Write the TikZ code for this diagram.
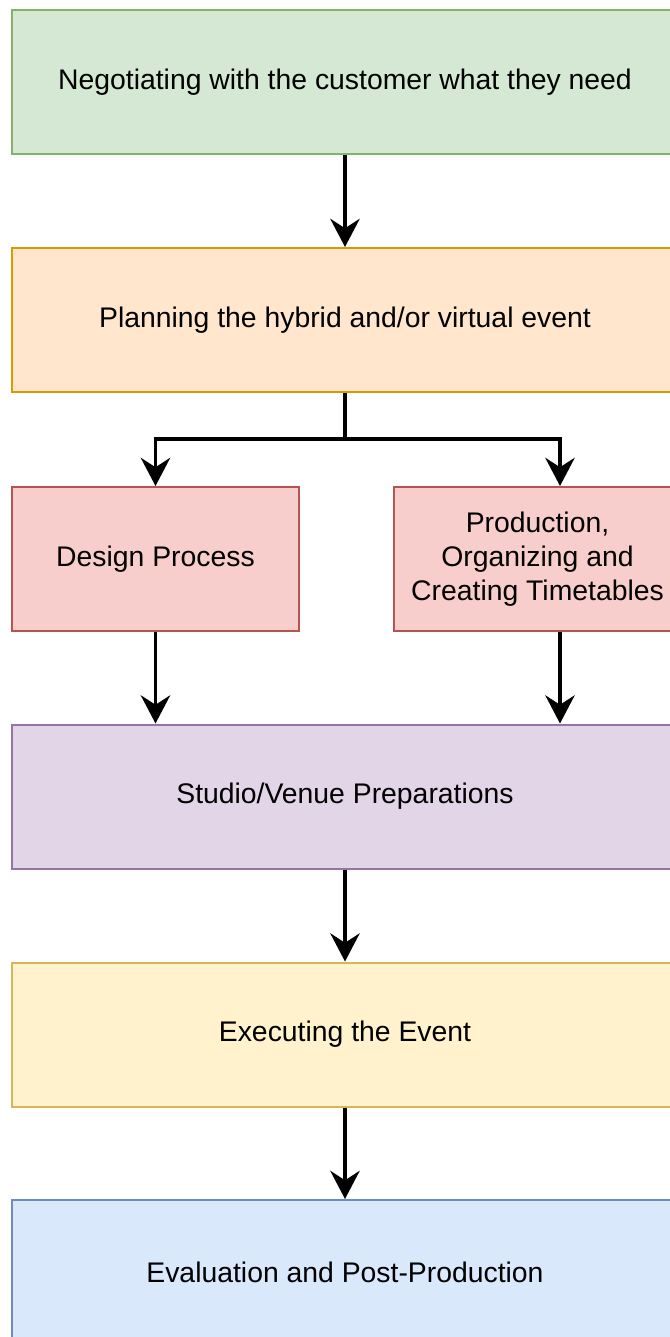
\documentclass[tikz,border=0pt]{standalone}
\usepackage{fontspec}
\setmainfont{Liberation Sans}
\usetikzlibrary{positioning}
\usetikzlibrary{arrows.meta}

\definecolor{greenfill}{HTML}{D5E8D4}
\definecolor{greenline}{HTML}{82B366}
\definecolor{orangefill}{HTML}{FFE6CC}
\definecolor{orangeline}{HTML}{D79B00}
\definecolor{redfill}{HTML}{F8CECC}
\definecolor{redline}{HTML}{B85450}
\definecolor{purplefill}{HTML}{E1D5E7}
\definecolor{purpleline}{HTML}{9673A6}
\definecolor{yellowfill}{HTML}{FFF2CC}
\definecolor{yellowline}{HTML}{D6B656}
\definecolor{bluefill}{HTML}{DAE8FC}
\definecolor{blueline}{HTML}{6C8EBF}

\begin{document}
\begin{tikzpicture}[x=0.03cm,y=-0.03cm,
box/.style={draw,line width=1.7pt,minimum height=4.32cm,inner sep=0pt,
  align=center,font=\fontsize{24.2}{28.9}\selectfont},
wide/.style={box,minimum width=19.98cm},
half/.style={box,minimum width=8.61cm},
flow/.style={line width=3.4pt,-{Stealth[length=24pt,width=25pt,inset=8pt]}}]
\clip (0,0) rectangle (670,1337);

% stages, top to bottom
\node[wide,fill=greenfill,draw=greenline] (need) at (345,82)
  {Negotiating with the customer what they need};
\node[wide,fill=orangefill,draw=orangeline] (plan) at (345,320)
  {Planning the hybrid and/or virtual event};
\node[half,fill=redfill,draw=redline] (design) at (155.5,559)
  {Design Process};
\node[half,fill=redfill,draw=redline] (prod) at (537.5,559)
  {Production,\\Organizing and\\Creating Timetables};
\node[wide,fill=purplefill,draw=purpleline] (venue) at (345,796.5)
  {Studio/Venue Preparations};
\node[wide,fill=yellowfill,draw=yellowline] (exec) at (345,1034.5)
  {Executing the Event};
\node[wide,fill=bluefill,draw=blueline] (eval) at (345,1272)
  {Evaluation and Post-Production};

\coordinate (rx) at (560,0);

% arrows
\draw[flow] (need) -- (plan);
\draw[flow] (plan.south) -- ++(0,46) coordinate (fork) -| (design.north);
\draw[flow] (fork) -| (rx |- prod.north);
\draw[flow] (design) -- (design |- venue.north);
\draw[flow] (rx |- prod.south) -- (rx |- venue.north);
\draw[flow] (venue) -- (exec);
\draw[flow] (exec) -- (eval);
\end{tikzpicture}
\end{document}
